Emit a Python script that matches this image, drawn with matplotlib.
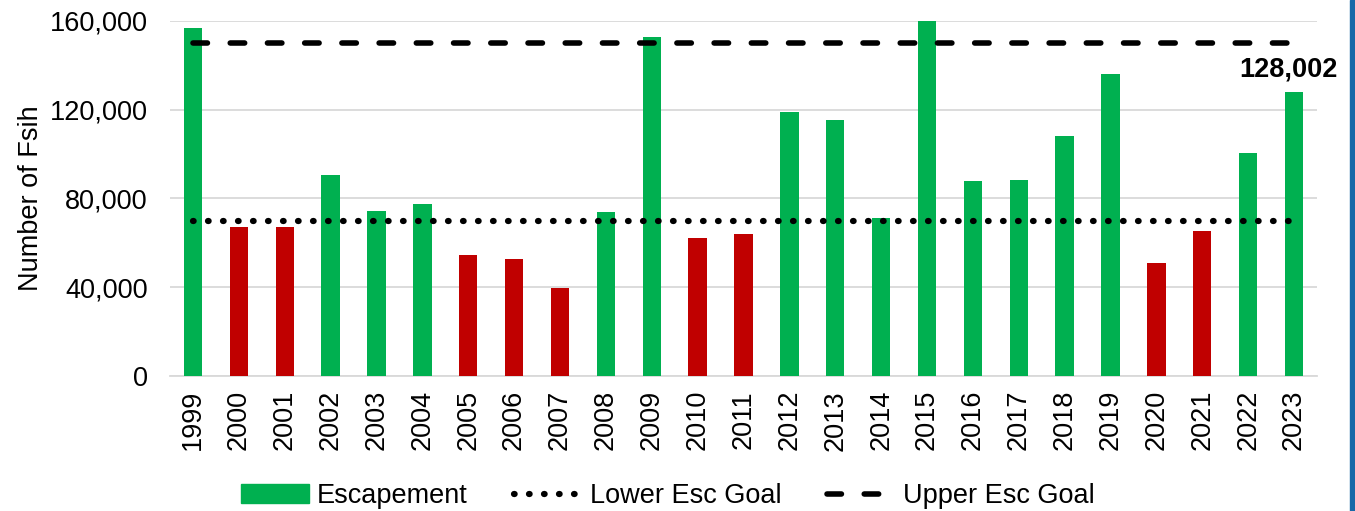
import matplotlib
matplotlib.use("Agg")
import matplotlib.pyplot as plt
from matplotlib.lines import Line2D
from matplotlib.patches import Patch, Rectangle

years = [str(y) for y in range(1999, 2024)]
escapement = [157000, 67000, 67000, 90500, 74300, 77500, 54500, 52700, 39700,
              74000, 152800, 62200, 64000, 119000, 115400, 71000, 160000, 87900,
              88300, 108200, 136100, 50900, 65400, 100500, 128002]
lower_goal = 70000
upper_goal = 150000

green = "#00B050"
red = "#C00000"
fs = 19.5

plt.rcParams["font.family"] = ["Liberation Sans", "DejaVu Sans"]

fig = plt.figure(figsize=(13.55, 5.11), dpi=100)
ax = fig.add_axes([170 / 1355, 135 / 511, 1147 / 1355, 355 / 511])

x = list(range(len(years)))
colors = [green if v >= lower_goal else red for v in escapement]
ax.bar(x, escapement, width=0.4, color=colors, zorder=3)

dotted = dict(color="black", lw=4.5, linestyle=(0, (0.1, 2.3)), dash_capstyle="round")
dashed = dict(color="black", lw=4, linestyle=(0, (2.6, 4.1)), dash_capstyle="round")
ax.plot([x[0], x[-1]], [lower_goal, lower_goal], zorder=4, **dotted)
ax.plot([x[0], x[-1]], [upper_goal, upper_goal], zorder=4, **dashed)

ax.text(x[-1] - 0.12, escapement[-1] + 4500, f"{escapement[-1]:,}", ha="center",
        va="bottom", fontsize=fs, fontweight="bold")

ax.set_xlim(-0.5, len(years) - 0.5)
ax.set_ylim(0, 160000)
ax.set_yticks(range(0, 160001, 40000))
ax.set_yticklabels([f"{v:,}" for v in range(0, 160001, 40000)], fontsize=fs)
ax.set_xticks(x)
ax.set_xticklabels(years, rotation=90, fontsize=fs)
ax.tick_params(axis="y", length=0, pad=16)
ax.tick_params(axis="x", length=0, pad=10)
ax.grid(axis="y", color="#D9D9D9", lw=1.3, zorder=0)
for s in ["top", "right", "left"]:
    ax.spines[s].set_visible(False)
ax.spines["bottom"].set_color("#D9D9D9")
ax.spines["bottom"].set_linewidth(1.3)
ax.set_ylabel("Number of Fsih", fontsize=fs, labelpad=4)

handles = [
    Patch(color=green),
    Line2D([], [], **dotted),
    Line2D([], [], **dashed),
]
labels = ["Escapement", "Lower Esc Goal", "Upper Esc Goal"]
fig.legend(handles, labels, loc="center", bbox_to_anchor=(668 / 1355, 1 - 496 / 511),
           ncol=3, frameon=False, fontsize=fs, handlelength=2.5,
           handletextpad=0.3, columnspacing=1.7)

fig.patches.append(Rectangle((1350 / 1355, 0), 5 / 1355, 1, transform=fig.transFigure,
                             color="#1769A8", zorder=0))

fig.savefig("out.png", dpi=100)
